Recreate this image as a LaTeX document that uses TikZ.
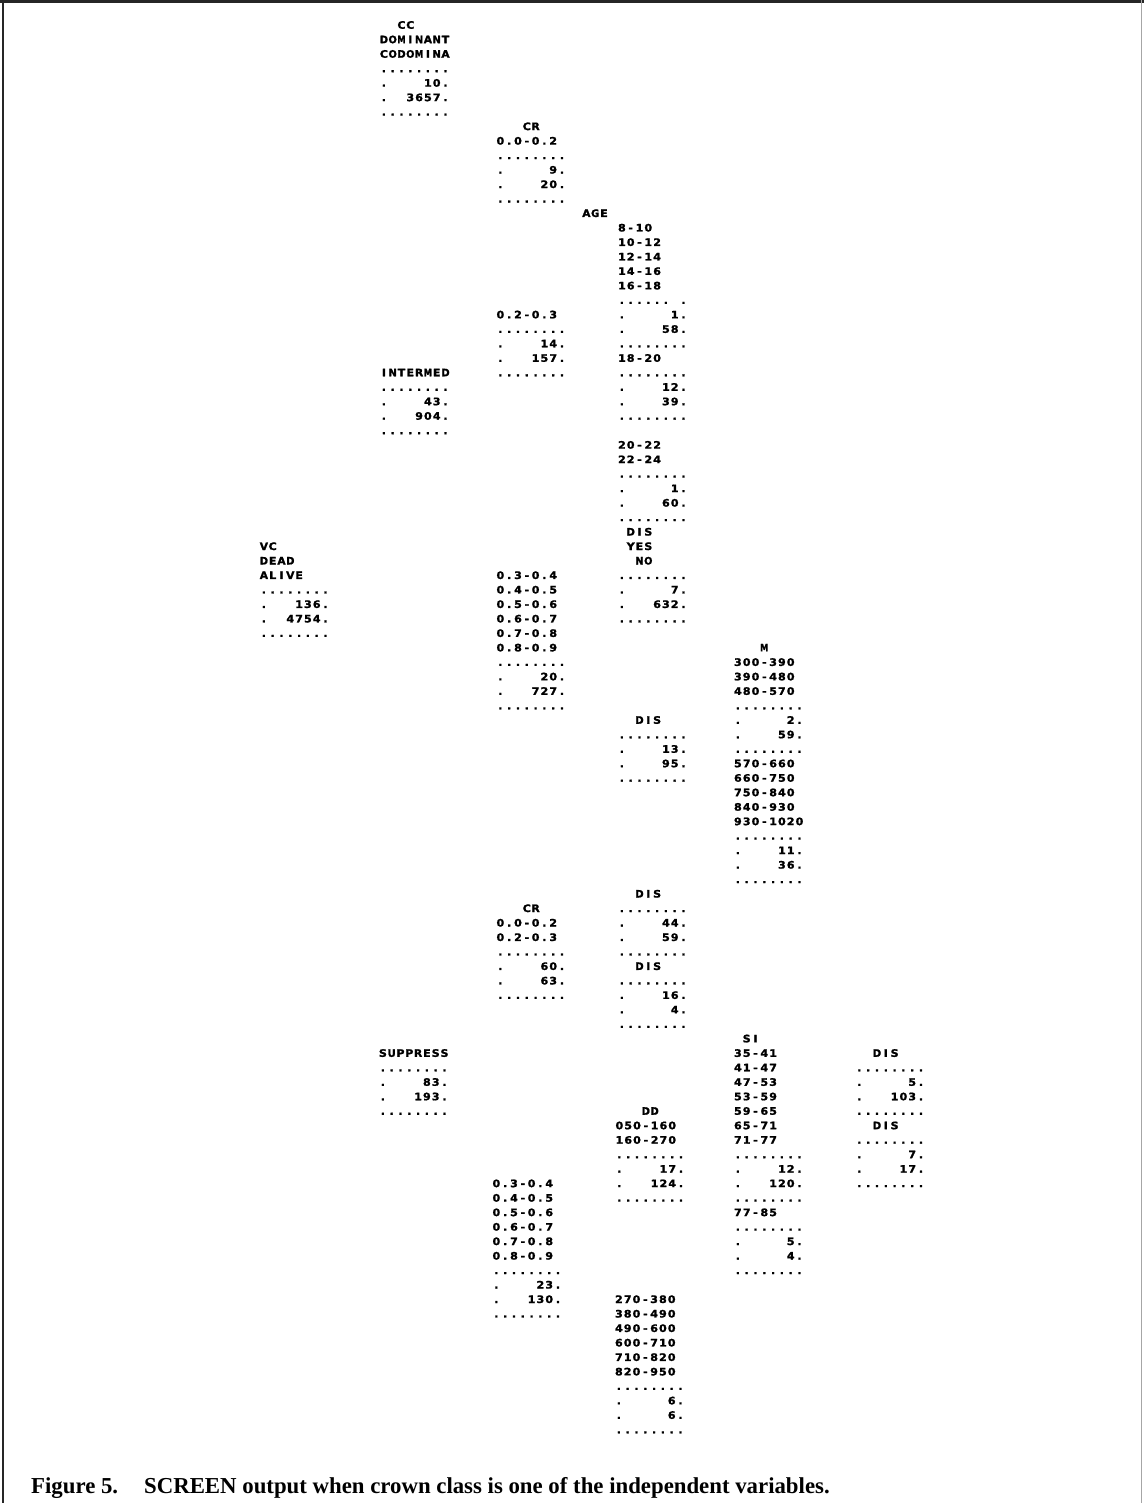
\documentclass[tikz,border=0pt]{standalone}
\usepackage{fontspec}
\usepackage{graphicx}
\newfontfamily\mono[FakeBold=1.5,FakeStretch=1.08]{DejaVu Sans}
\newfontfamily\capfont{Liberation Serif}
% each character centred in a fixed 8.8pt cell (wide letters squeezed); | ends a line
\newsavebox\chbox
\def\putch#1{\sbox\chbox{#1}\ifdim\wd\chbox>8.3pt\makebox[8.8pt][c]{\resizebox{8.3pt}{\height}{\usebox\chbox}}\else\makebox[8.8pt][c]{\usebox\chbox}\fi}
\def\cnl{\egroup\hbox\bgroup\cbox}
\def\cbox#1{\ifx#1\relax\let\next\relax\else\ifx#1|\let\next\cnl\else\putch{#1}\let\next\cbox\fi\fi\next}
\newcommand\blk[1]{\vtop{\mono\bfseries\fontsize{10.3}{14.48}\selectfont
  \baselineskip=14.48pt\lineskiplimit=-100pt\lineskip=0pt
  \def~{\hphantom{0}}\hbox\bgroup\cbox#1\relax\egroup}}
\tikzset{
  blk/.style={anchor=base west, inner sep=0pt, outer sep=0pt},
  frame/.style={line width=3pt, black!85},
  caption/.style={anchor=base west, inner sep=0pt, font=\capfont\bfseries\fontsize{22.8}{24}\selectfont}
}
\begin{document}
\begin{tikzpicture}[x=1pt,y=-1pt]
\useasboundingbox (0,0) rectangle (1144,1503);
% frame
\draw[frame] (0,2) -- (1144,2);
\draw[line width=2pt, black!85] (3,0) -- (3,1503);
\draw[line width=1pt, black!35] (1141.5,0) -- (1141.5,1503);
% column A
\node[blk] (vc) at (259.5,{28.75+14.48*36}) {\blk{VC|DEAD|ALIVE|........|.~~~136.|.~~4754.|........}};
% column B
\node[blk] (cc) at (379.5,{28.75+14.48*0}) {\blk{~~CC|DOMINANT|CODOMINA|........|.~~~~10.|.~~3657.|........}};
\node[blk] (inter) at (379.5,{28.75+14.48*24}) {\blk{INTERMED|........|.~~~~43.|.~~~904.|........}};
\node[blk] (supp) at (378.5,{28.75+14.48*71}) {\blk{SUPPRESS|........|.~~~~83.|.~~~193.|........}};
% column C
\node[blk] (cra) at (496,{28.75+14.48*7}) {\blk{~~~CR|0.0-0.2|........|.~~~~~9.|.~~~~20.|........}};
\node[blk] (crb) at (496,{28.75+14.48*20}) {\blk{0.2-0.3|........|.~~~~14.|.~~~157.|........}};
\node[blk] (crc) at (496,{28.75+14.48*38}) {\blk{0.3-0.4|0.4-0.5|0.5-0.6|0.6-0.7|0.7-0.8|0.8-0.9|........|.~~~~20.|.~~~727.|........}};
\node[blk] (crd) at (496,{28.75+14.48*61}) {\blk{~~~CR|0.0-0.2|0.2-0.3|........|.~~~~60.|.~~~~63.|........}};
\node[blk] (cre) at (492,{28.75+14.48*80}) {\blk{0.3-0.4|0.4-0.5|0.5-0.6|0.6-0.7|0.7-0.8|0.8-0.9|........|.~~~~23.|.~~~130.|........}};
% column D
\node[blk] (age) at (582,{28.75+14.48*13}) {\blk{AGE}};
\node[blk] (agea) at (617.5,{28.75+14.48*14}) {\blk{8-10|10-12|12-14|14-16|16-18|......~.|.~~~~~1.|.~~~~58.|........}};
\node[blk] (ageb) at (617.5,{28.75+14.48*23}) {\blk{18-20|........|.~~~~12.|.~~~~39.|........}};
\node[blk] (agec) at (617.5,{28.75+14.48*29}) {\blk{20-22|22-24|........|.~~~~~1.|.~~~~60.|........}};
\node[blk] (disa) at (617.5,{28.75+14.48*35}) {\blk{~DIS|~YES|~~NO|........|.~~~~~7.|.~~~632.|........}};
\node[blk] (disb) at (617.5,{28.75+14.48*48}) {\blk{~~DIS|........|.~~~~13.|.~~~~95.|........}};
\node[blk] (disc) at (617.5,{28.75+14.48*60}) {\blk{~~DIS|........|.~~~~44.|.~~~~59.|........}};
\node[blk] (disd) at (617.5,{28.75+14.48*65}) {\blk{~~DIS|........|.~~~~16.|.~~~~~4.|........}};
\node[blk] (dd) at (615,{28.75+14.48*75}) {\blk{~~~DD|050-160|160-270|........|.~~~~17.|.~~~124.|........}};
\node[blk] (dde) at (614.5,{28.75+14.48*88}) {\blk{270-380|380-490|490-600|600-710|710-820|820-950|........|.~~~~~6.|.~~~~~6.|........}};
% column E
\node[blk] (ma) at (733.5,{28.75+14.48*43}) {\blk{~~~M|300-390|390-480|480-570|........|.~~~~~2.|.~~~~59.|........}};
\node[blk] (mb) at (733.5,{28.75+14.48*51}) {\blk{570-660|660-750|750-840|840-930|930-1020|........|.~~~~11.|.~~~~36.|........}};
\node[blk] (si) at (733.5,{28.75+14.48*70}) {\blk{~SI|35-41|41-47|47-53|53-59|59-65|65-71|71-77|........|.~~~~12.|.~~~120.|........}};
\node[blk] (sib) at (733.5,{28.75+14.48*82}) {\blk{77-85|........|.~~~~~5.|.~~~~~4.|........}};
% column F
\node[blk] (dise) at (855,{28.75+14.48*71}) {\blk{~~DIS|........|.~~~~~5.|.~~~103.|........}};
\node[blk] (disf) at (855,{28.75+14.48*76}) {\blk{~~DIS|........|.~~~~~7.|.~~~~17.|........}};
% caption
\node[caption] (cap) at (31,1493) {Figure 5.\hspace{26pt}SCREEN output when crown class is one of the independent variables.};
\end{tikzpicture}
\end{document}
